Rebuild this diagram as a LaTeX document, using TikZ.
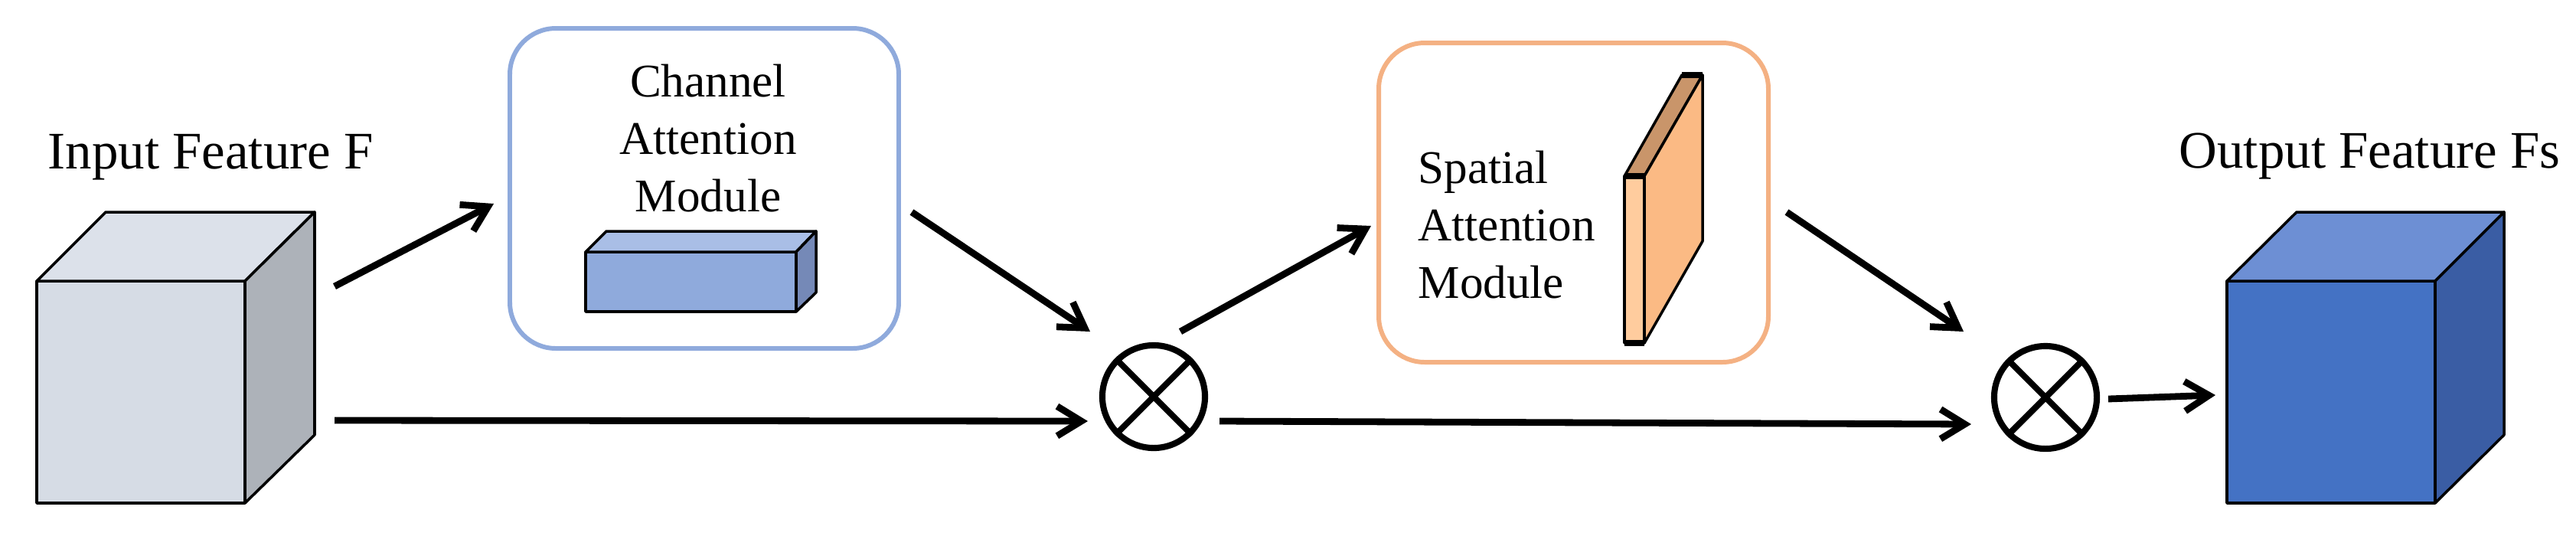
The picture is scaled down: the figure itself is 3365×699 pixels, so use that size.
\documentclass[tikz,border=0pt]{standalone}
\usepackage{fontspec}
\setmainfont{Liberation Serif}
\usetikzlibrary{arrows.meta}
\definecolor{inFront}{HTML}{D6DCE5}
\definecolor{inTop}{HTML}{DCE1EA}
\definecolor{inSide}{HTML}{ADB2B9}
\definecolor{outFront}{HTML}{4472C4}
\definecolor{outTop}{HTML}{6D8FD4}
\definecolor{outSide}{HTML}{3A5DA4}
\definecolor{barFront}{HTML}{8FAADC}
\definecolor{barTop}{HTML}{A9BEE6}
\definecolor{barSide}{HTML}{7589B7}
\definecolor{slabFront}{HTML}{FFCC9E}
\definecolor{slabTop}{HTML}{C9956A}
\definecolor{slabSide}{HTML}{FBBA84}
\definecolor{caLine}{HTML}{8FAADC}
\definecolor{saLine}{HTML}{F4B183}
\tikzset{
  conn/.style={line width=2.5pt, -{Straight Barb[length=9pt,width=11pt]}},
  face/.style={draw=black, line width=1pt, line join=round},
  modbox/.style={line width=1.7pt, rounded corners=0.6cm},
  bigtxt/.style={inner sep=0pt, font=\fontsize{19.6}{23}\selectfont},
  modtxt/.style={inner sep=0pt, font=\fontsize{17.4}{21.2}\selectfont},
  mult/.style={draw, circle, line width=2.3pt, minimum size=1.34cm, inner sep=0pt}
}
\begin{document}
\begin{tikzpicture}[x=0.01cm, y=-0.01cm]
\useasboundingbox (0,0) rectangle (3365,699);
% input cube
\draw[face, fill=inFront] (48,367) rectangle (320,657);
\draw[face, fill=inTop] (48,367) -- (138,277) -- (411,277) -- (320,367) -- cycle;
\draw[face, fill=inSide] (320,367) -- (411,277) -- (411,568) -- (320,657) -- cycle;
\node[bigtxt, anchor=base west] (inlbl) at (62,220) {Input Feature F};
% output cube
\draw[face, fill=outFront] (2909,367) rectangle (3181,657);
\draw[face, fill=outTop] (2909,367) -- (3000,277) -- (3271,277) -- (3181,367) -- cycle;
\draw[face, fill=outSide] (3181,367) -- (3271,277) -- (3271,568) -- (3181,657) -- cycle;
\node[bigtxt, anchor=base west] (outlbl) at (2846,219) {Output Feature Fs};
% channel attention module
\draw[modbox, draw=caLine] (666,37) rectangle (1174,455);
\node[modtxt, align=center, anchor=base] (catxt) at (925,276) {Channel\\Attention\\Module};
\draw[face, fill=barFront] (765,329) rectangle (1040,407);
\draw[face, fill=barTop] (765,329) -- (792,302) -- (1066,302) -- (1040,329) -- cycle;
\draw[face, fill=barSide] (1040,329) -- (1066,302) -- (1066,382) -- (1040,407) -- cycle;
% spatial attention module
\draw[modbox, draw=saLine] (1801,56) rectangle (2310,473);
\node[modtxt, align=left, anchor=base west] (satxt) at (1852,389) {Spatial\\Attention\\Module};
\draw[face, fill=slabFront] (2122,230) rectangle (2148,448);
\draw[face, fill=slabTop] (2122,230) -- (2197,98) -- (2224,98) -- (2148,230) -- cycle;
\draw[face, fill=slabSide] (2148,230) -- (2224,98) -- (2224,315) -- (2148,448) -- cycle;
\draw[line width=2.2pt] (2122,230) -- (2148,230);
\draw[line width=2.2pt] (2122,448) -- (2148,448);
\draw[line width=2.2pt] (2197,98) -- (2224,98);
% multiplication nodes
\node[mult] (m1) at (1507,518) {};
\draw[line width=2.3pt] (m1.45) -- (m1.225) (m1.135) -- (m1.-45);
\node[mult] (m2) at (2672,519) {};
\draw[line width=2.3pt] (m2.45) -- (m2.225) (m2.135) -- (m2.-45);
% connector end points
\coordinate (a1s) at (437,374); \coordinate (a1e) at (645,266);
\coordinate (b1s) at (437,549); \coordinate (b1e) at (1421,550);
\coordinate (a2s) at (1191,277); \coordinate (a2e) at (1424,433);
\coordinate (a3s) at (1542,433); \coordinate (a3e) at (1791,295);
\coordinate (b2s) at (1593,550); \coordinate (b2e) at (2575,554);
\coordinate (a4s) at (2334,277); \coordinate (a4e) at (2565,433);
\coordinate (a5s) at (2754,521); \coordinate (a5e) at (2894,516);
\draw[conn] (a1s) -- (a1e);
\draw[conn] (b1s) -- (b1e);
\draw[conn] (a2s) -- (a2e);
\draw[conn] (a3s) -- (a3e);
\draw[conn] (b2s) -- (b2e);
\draw[conn] (a4s) -- (a4e);
\draw[conn] (a5s) -- (a5e);
\end{tikzpicture}
\end{document}
